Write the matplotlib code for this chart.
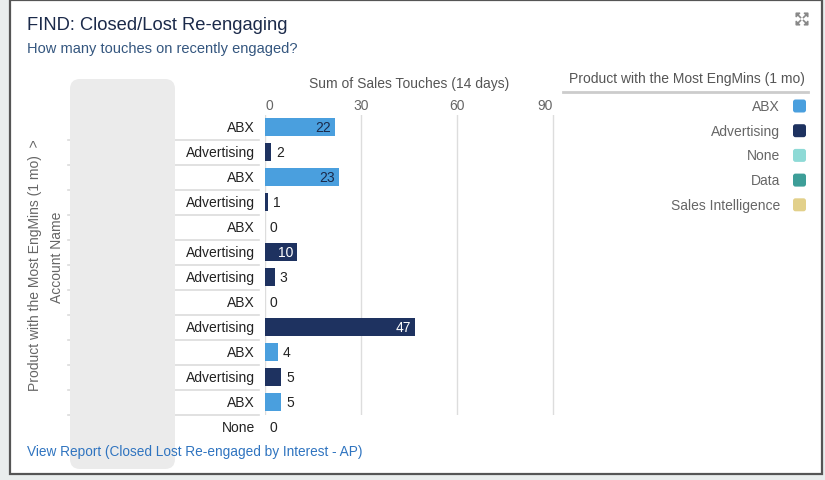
import matplotlib
matplotlib.use("Agg")
import matplotlib.pyplot as plt
from matplotlib.patches import Rectangle, FancyBboxPatch, Polygon
import matplotlib.transforms as mtransforms

plt.rcParams['font.family'] = ['Liberation Sans', 'DejaVu Sans']

# data
products = ['ABX', 'Advertising', 'ABX', 'Advertising', 'ABX', 'Advertising', 'Advertising',
            'ABX', 'Advertising', 'ABX', 'Advertising', 'ABX', 'None']
touches = [22, 2, 23, 1, 0, 10, 3, 0, 47, 4, 5, 5, 0]
x_ticks = [0, 30, 60, 90]

legend_names = ['ABX', 'Advertising', 'None', 'Data', 'Sales Intelligence']
legend_colors = ['#4a9fde', '#1e3260', '#8edad6', '#3d9e98', '#e2d08a']
color_of = dict(zip(legend_names, legend_colors))

W, H = 825, 481
fig = plt.figure(figsize=(W / 100, H / 100), dpi=100)
fig.patch.set_facecolor('#e9eded')

# card background
bg = fig.add_axes([0, 0, 1, 1], zorder=0)
bg.set_xlim(0, W)
bg.set_ylim(H, 0)
bg.axis('off')
bg.add_patch(Rectangle((10, 1), 812, 474, facecolor='white', edgecolor='#555555', lw=1.6))

# bar axes: 0..90 -> px 265..553, rows 0..11 -> px 115.5..415.5
px_per_unit = 288 / 90
ax = fig.add_axes([265 / W, 1 - 415.5 / H, 292 / W, 300 / H], zorder=1)
ax.patch.set_alpha(0)
n_grid = len(products) - 1
ax.set_xlim(0, 292 / px_per_unit)
ax.set_ylim(n_grid - 0.5, -0.5)
for s in ax.spines.values():
    s.set_visible(False)
ax.set_xticks(x_ticks)
ax.set_yticks([])
ax.xaxis.tick_top()
ax.tick_params(axis='x', length=0, pad=2, labelsize=10, labelcolor='#666666')
tick_labels = ax.get_xticklabels()
tick_labels[0].set_ha('left')
tick_labels[-1].set_ha('right')
ax.grid(axis='x', color='#dddddd', lw=1)
ax.set_axisbelow(True)
ax.xaxis.set_label_position('top')
ax.set_xlabel('Sum of Sales Touches (14 days)', fontsize=10, color='#555555')
ax.xaxis.set_label_coords(144 / 292, 1 + 27 / 300)

rows = list(range(len(products)))
bar_colors = [color_of[p] for p in products]
ax.barh(rows, touches, height=0.72, color=bar_colors, clip_on=False)

blend = mtransforms.blended_transform_factory(ax.transAxes, ax.transData)
for i, (p, v) in enumerate(zip(products, touches)):
    ax.annotate(p, xy=(0, i), xycoords=blend, xytext=(-10, 0), textcoords='offset pixels',
                ha='right', va='center', fontsize=10, color='#222222', annotation_clip=False)
    if v >= 10:
        tc = 'white' if p == 'Advertising' else '#1b2a4a'
        ax.annotate(str(v), xy=(v, i), xytext=(-4, 0), textcoords='offset pixels',
                    ha='right', va='center', fontsize=10, color=tc, annotation_clip=False)
    else:
        ax.annotate(str(v), xy=(v, i), xytext=(5, 0), textcoords='offset pixels',
                    ha='left', va='center', fontsize=10, color='#222222', annotation_clip=False)

# row separators in the label column
for i in rows[:-1]:
    ax.plot([-197 / 292, -6 / 292], [i + 0.5, i + 0.5], transform=blend, color='#dcdcdc',
            lw=1.2, clip_on=False)

# overlay with texts and legend
top = fig.add_axes([0, 0, 1, 1], zorder=3)
top.set_xlim(0, W)
top.set_ylim(H, 0)
top.axis('off')
top.patch.set_alpha(0)

top.add_patch(FancyBboxPatch((70, 80), 105, 390, boxstyle='round,pad=0,rounding_size=10',
                             facecolor='#ebebeb', edgecolor='none'))

top.text(27, 25, 'FIND: Closed/Lost Re-engaging', fontsize=13.2, color='#1b2a4a', va='center')
top.text(27, 49, 'How many touches on recently engaged?', fontsize=10.5, color='#34567f', va='center')
top.text(27, 452, 'View Report (Closed Lost Re-engaged by Interest - AP)', fontsize=9.8,
         color='#2f74c0', va='center')

top.text(35, 265, 'Product with the Most EngMins (1 mo)  >', rotation=90, fontsize=10,
         color='#666666', ha='center', va='center')
top.text(57, 257, 'Account Name', rotation=90, fontsize=10, color='#666666',
         ha='center', va='center')

# legend
top.text(805, 79, 'Product with the Most EngMins (1 mo)', fontsize=10, color='#555555',
         ha='right', va='center')
top.plot([563, 808], [93, 93], color='#cccccc', lw=2)
for k, (name, c) in enumerate(zip(legend_names, legend_colors)):
    y = 107 + k * 24.7
    top.text(780, y, name, fontsize=10, color='#666666', ha='right', va='center')
    top.add_patch(FancyBboxPatch((793, y - 6.5), 13, 13, boxstyle='round,pad=0,rounding_size=2.5',
                                 facecolor=c, edgecolor='none'))

# expand icon
cx, cy = 802, 20
for dx in (-1, 1):
    for dy in (-1, 1):
        tip = (cx + dx * 6, cy + dy * 6)
        top.add_patch(Polygon([tip, (tip[0] - dx * 4, tip[1]), (tip[0], tip[1] - dy * 4)],
                              closed=True, facecolor='#888888', edgecolor='#888888', lw=0.8))
        top.plot([cx + dx * 1.5, cx + dx * 4], [cy + dy * 1.5, cy + dy * 4], color='#888888', lw=1.2)

fig.savefig('out.png', dpi=100)
